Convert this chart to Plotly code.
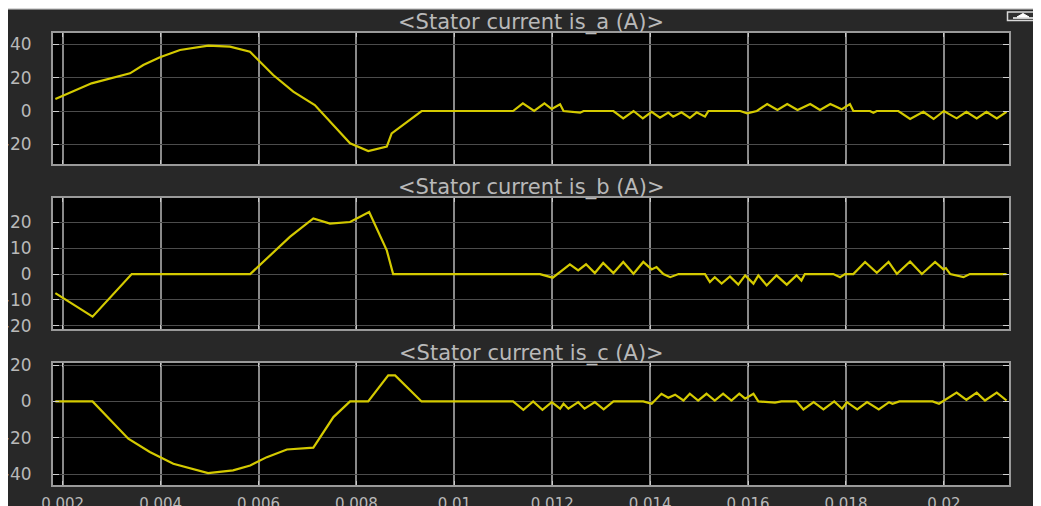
import plotly.graph_objects as go

# ---- data (time in s, current in A) ----
t_a = [0.00185, 0.00259, 0.003375, 0.003646, 0.003987, 0.004396, 0.004974, 0.005417, 0.005826,
       0.0063, 0.00671, 0.00715, 0.00787, 0.008242, 0.00862, 0.00872, 0.009332, 0.0112,
       0.0114, 0.01163, 0.01184, 0.01199, 0.01216, 0.01223, 0.01257, 0.01264, 0.01325,
       0.01345, 0.01366, 0.01385, 0.01403, 0.0142, 0.01437, 0.01447, 0.01464, 0.01481,
       0.01495, 0.01512, 0.01519, 0.01584, 0.01598, 0.01618, 0.01639, 0.0166, 0.0168,
       0.01701, 0.01727, 0.01747, 0.01768, 0.01791, 0.01808, 0.01815, 0.01849, 0.01856,
       0.01863, 0.01907, 0.01931, 0.01958, 0.01979, 0.02, 0.02026, 0.02046, 0.02067,
       0.02087, 0.02108, 0.02128]
i_a = [7.2, 16.6, 22.6, 27.6, 32.2, 36.6, 39.2, 38.6, 35.6,
       21.6, 11.6, 3.6, -19.4, -24, -21.4, -13.4, 0, 0,
       4.6, 0, 4.6, 1.2, 4, 0, -1, 0, 0,
       -4.4, 0, -4.4, -0.5, -4, -1, -3.4, -0.8, -4.2,
       -0.8, -3.4, 0, 0, -1.4, 0, 4.2, 0.6, 4.2,
       0.6, 4.2, 0.6, 4.2, 1, 4.2, 0, 0, -1,
       0, 0, -4.8, -0.5, -4.8, 0, -4.4, -0.5, -4.4,
       -0.5, -4.4, -0.5]

t_b = [0.00185, 0.00261, 0.00341, 0.00583, 0.00664, 0.00712, 0.00746, 0.00787, 0.00826,
       0.00862, 0.00875, 0.01175, 0.01201, 0.01219, 0.01236, 0.01253, 0.01269, 0.01287,
       0.01304, 0.01325, 0.01345, 0.01366, 0.01386, 0.01403, 0.01413, 0.01427, 0.01441,
       0.01458, 0.01512, 0.01522, 0.01532, 0.01546, 0.01563, 0.0158, 0.01594, 0.01611,
       0.01621, 0.01638, 0.01658, 0.01679, 0.01699, 0.01709, 0.01716, 0.01774, 0.01788,
       0.01798, 0.01815, 0.01839, 0.01863, 0.01887, 0.01904, 0.01931, 0.01955, 0.01982,
       0.01999, 0.02004, 0.02013, 0.0204, 0.02053, 0.02128]
i_b = [-7.4, -16.5, 0, 0, 14.4, 21.6, 19.6, 20.2, 24.1,
       9.2, 0, 0, -1.4, 1.4, 3.8, 1.4, 3.8, 0.4,
       4.3, 0.4, 4.7, 0.1, 4.7, 1.8, 2.7, 0, -1.2,
       0, 0, -3.1, -1.2, -3.7, -0.9, -4.1, -0.5, -3.7,
       -0.5, -4.4, -0.5, -4.1, -0.5, -2.5, 0, 0, -1.2,
       0, 0, 4.7, 0.5, 4.7, 0.1, 4.9, 0, 4.7,
       1.8, 2.3, 0, -1.2, 0, 0]

t_c = [0.00185, 0.00261, 0.00334, 0.00378, 0.00426, 0.00497, 0.00548, 0.00583, 0.00617,
       0.00658, 0.00712, 0.00726, 0.00753, 0.00787, 0.00824, 0.00865, 0.00879, 0.00933,
       0.0112, 0.01141, 0.01161, 0.0118, 0.01199, 0.01216, 0.01223, 0.01233, 0.01253,
       0.01266, 0.01287, 0.01305, 0.01325, 0.01386, 0.01403, 0.01423, 0.01437, 0.01451,
       0.01468, 0.01481, 0.01498, 0.01515, 0.01532, 0.01549, 0.01566, 0.01582, 0.01594,
       0.01611, 0.01621, 0.01655, 0.01668, 0.01699, 0.01713, 0.01734, 0.01754, 0.01776,
       0.01792, 0.01802, 0.01823, 0.01843, 0.01867, 0.01888, 0.01895, 0.01909, 0.01977,
       0.0199, 0.02026, 0.02046, 0.02067, 0.02084, 0.02108, 0.02128]
i_c = [0, 0, -20.5, -27.8, -34.2, -39.4, -37.9, -35.2, -30.6,
       -26.4, -25.4, -19.6, -8.6, 0, 0, 14.3, 14.3, 0,
       0, -4.6, 0, -4.6, -0.4, -4, -1.3, -4, -0.4,
       -4, -0.4, -4.4, 0, 0, -1.3, 4.2, 2, 3.7,
       0.5, 4.2, 0.5, 4.2, 0.5, 4.2, 0.5, 4.2, 1.5,
       4.2, 0, -0.7, 0, 0, -4.4, -0.4, -4.4, 0,
       -4, -0.4, -4.4, -0.4, -4.4, -0.4, -1.3, 0, 0,
       -1.3, 4.8, 0.9, 4.8, 0.5, 4.8, 0.5]

titles = ["<Stator current is_a (A)>", "<Stator current is_b (A)>", "<Stator current is_c (A)>"]
x_ticks = [0.002, 0.004, 0.006, 0.008, 0.01, 0.012, 0.014, 0.016, 0.018, 0.02]
x_labels = ["0.002", "0.004", "0.006", "0.008", "0.01", "0.012", "0.014", "0.016", "0.018", "0.02"]
y_ticks_a = [40, 20, 0, -20]
y_ticks_b = [20, 10, 0, -10, -20]
y_ticks_c = [20, 0, -20, -40]

# ---- style ----
# The page adds an 8px body margin at top/left, so the figure is 8px smaller.
W, H = 1033, 498
BG = "#282828"
LINE = "#d4ca00"
TXT = "#b9b9b9"
FRAME = "#9a9a9a"
XRANGE = [0.001802, 0.02133]
xdom = [45 / W, 1001 / W]
ydoms = [[1 - 156 / H, 1 - 25 / H], [1 - 321 / H, 1 - 190 / H], [1 - 477 / H, 1 - 355 / H]]
yranges = [[-31.8, 46.8], [-21.3, 29.5], [-45.9, 21.1]]
yticks = [y_ticks_a, y_ticks_b, y_ticks_c]
series = [(t_a, i_a), (t_b, i_b), (t_c, i_c)]


def fmt(v):
    return str(v).replace("-", "\u2212")


fig = go.Figure()
layout = dict(
    width=W, height=H,
    paper_bgcolor=BG, plot_bgcolor="#000000",
    margin=dict(l=0, r=0, t=0, b=0, autoexpand=False),
    showlegend=False,
    font=dict(family="DejaVu Sans", color=TXT, size=14),
)

for k in range(3):
    n = "" if k == 0 else str(k + 1)
    t, v = series[k]
    fig.add_trace(go.Scatter(x=t, y=v, mode="lines", xaxis="x" + n, yaxis="y" + n,
                             line=dict(color=LINE, width=2.2), hoverinfo="skip"))
    layout["xaxis" + n] = dict(
        domain=xdom, anchor="y" + n, range=XRANGE, automargin=False,
        tickvals=x_ticks, ticktext=x_labels,
        showticklabels=(k == 2),
        showgrid=True, gridcolor="#8a8a8a", gridwidth=2,
        zeroline=False, showline=True, linecolor=FRAME, linewidth=2, mirror="ticks",
        ticks="inside", ticklen=4, tickcolor="#c8c8c8",
        ticklabelstandoff=4,
        tickfont=dict(family="DejaVu Sans", size=15, color=TXT),
    )
    if k != 0:
        layout["xaxis" + n]["matches"] = "x"
    layout["yaxis" + n] = dict(
        domain=ydoms[k], anchor="x" + n, range=yranges[k], automargin=False,
        tickvals=yticks[k], ticktext=[fmt(y) for y in yticks[k]],
        showgrid=True, gridcolor="#4c4c4c", gridwidth=1,
        zeroline=False, showline=True, linecolor=FRAME, linewidth=2, mirror="ticks",
        ticks="inside", ticklen=6, tickcolor="#d0d0d0",
        ticklabelstandoff=16,
        tickfont=dict(family="DejaVu Sans", size=17, color=TXT),
    )

annotations = []
title_y = [14, 179, 345]
for k in range(3):
    annotations.append(dict(
        text=titles[k].replace("<", "&lt;").replace(">", "&gt;"),
        xref="paper", yref="paper", x=523 / W, y=1 - title_y[k] / H,
        xanchor="center", yanchor="middle", showarrow=False,
        font=dict(family="DejaVu Sans", size=21, color=TXT),
    ))
layout["annotations"] = annotations

shapes = [
    # thin light line along the window top
    dict(type="line", xref="paper", yref="paper", x0=0, x1=1, y0=1 - 0.8 / H, y1=1 - 0.8 / H,
         line=dict(color="#d8d8d8", width=1.6), layer="above"),
    # undock button
    dict(type="rect", xref="paper", yref="paper", x0=999.5 / W, x1=1031 / W,
         y0=1 - 12.5 / H, y1=1 - 4 / H, fillcolor="#303030",
         line=dict(color="#d8d8d8", width=1.5), layer="above"),
    dict(type="path", xref="paper", yref="paper",
         path="M {:.5f},{:.5f} L {:.5f},{:.5f} L {:.5f},{:.5f} Z".format(
             1009 / W, 1 - 9 / H, 1015 / W, 1 - 5.5 / H, 1021 / W, 1 - 9 / H),
         fillcolor="#ffffff", line=dict(color="#ffffff", width=1), layer="above"),
    dict(type="line", xref="paper", yref="paper", x0=1005 / W, x1=1025 / W,
         y0=1 - 10 / H, y1=1 - 10 / H, line=dict(color="#ffffff", width=1.5), layer="above"),
]
layout["shapes"] = shapes

fig.update_layout(**layout)
fig.write_html("out.html", config={"displayModeBar": False})
